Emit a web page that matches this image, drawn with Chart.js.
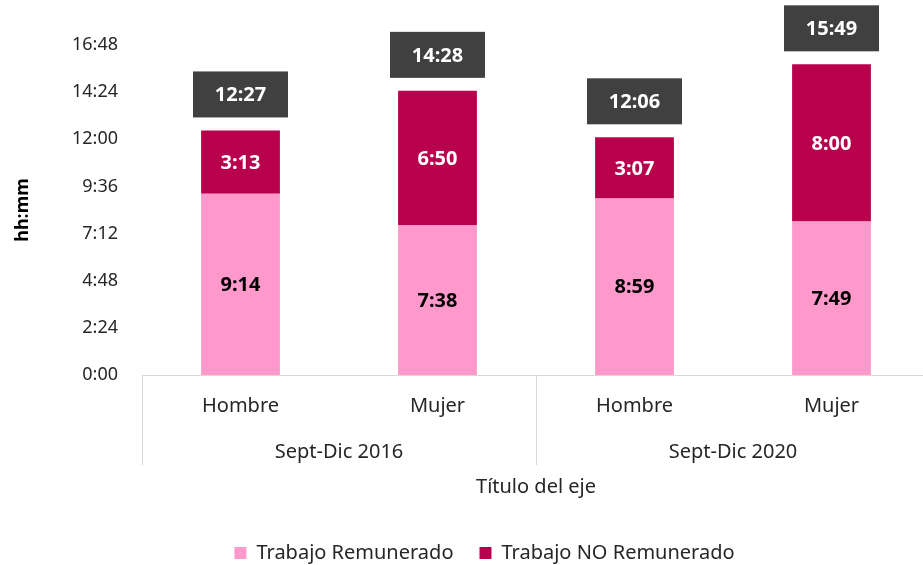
<!DOCTYPE html>
<html>
<head>
<meta charset="utf-8">
<script src="https://cdn.jsdelivr.net/npm/chart.js@4"></script>
<style>
  html, body { margin: 0; padding: 0; background: #fff; }
</style>
</head>
<body>
<canvas id="chart" width="923" height="565"></canvas>
<script>
// values as hh:mm, as printed on the chart
const periods = ["Sept-Dic 2016", "Sept-Dic 2020"];
const sexes = ["Hombre", "Mujer", "Hombre", "Mujer"];
const remunerado = ["9:14", "7:38", "8:59", "7:49"];
const noRemunerado = ["3:13", "6:50", "3:07", "8:00"];
const seriesNames = ["Trabajo Remunerado", "Trabajo NO Remunerado"];

const toMin = (s) => {
  const [h, m] = s.split(":").map(Number);
  return h * 60 + m;
};
const fmt = (v) => Math.floor(v / 60) + ":" + String(Math.round(v % 60)).padStart(2, "0");

const pink = "#ff99cc";
const wine = "#b9004d";
const lineGray = "#d9d9d9";
const textColor = "#262626";

Chart.defaults.font.family = "'Noto Sans', 'Open Sans', sans-serif";
Chart.defaults.font.size = 20;
Chart.defaults.color = textColor;

// the plot in the original runs a little past the right edge
const plotRight = 930;
const legendShift = 23;

const labelsPlugin = {
  id: "labelsPlugin",
  afterLayout(chart) {
    const x = chart.scales.x;
    x.right = plotRight;
    x.width = x.right - x.left;
    x.configure();
    chart.chartArea.right = plotRight;
    chart.chartArea.width = plotRight - chart.chartArea.left;

    const lg = chart.legend;
    lg.left += legendShift;
    lg.right += legendShift;
  },
  afterDatasetsDraw(chart) {
    const ctx = chart.ctx;
    const area = chart.chartArea;
    const x = chart.scales.x;
    ctx.save();
    ctx.textAlign = "center";
    ctx.textBaseline = "middle";
    ctx.font = "bold 20px 'Noto Sans', sans-serif";

    chart.data.datasets.forEach((ds, d) => {
      chart.getDatasetMeta(d).data.forEach((bar, i) => {
        ctx.fillStyle = d === 0 ? "#000" : "#fff";
        ctx.fillText(fmt(ds.data[i]), bar.x, (bar.y + bar.base) / 2 + 1);
      });
    });

    // totals in dark boxes above each bar
    chart.getDatasetMeta(1).data.forEach((bar, i) => {
      const total = chart.data.datasets[0].data[i] + chart.data.datasets[1].data[i];
      const bw = 95, bh = 46;
      const by = bar.y - 13 - bh;
      ctx.fillStyle = "#404040";
      ctx.fillRect(bar.x - bw / 2, by, bw, bh);
      ctx.fillStyle = "#fff";
      ctx.fillText(fmt(total), bar.x, by + bh / 2 + 1);
    });

    // two-level category labels
    ctx.font = "20px 'Noto Sans', sans-serif";
    ctx.fillStyle = textColor;
    sexes.forEach((s, i) => {
      ctx.fillText(s, x.getPixelForValue(i), area.bottom + 31);
    });
    periods.forEach((p, g) => {
      const cx = (x.getPixelForValue(g * 2) + x.getPixelForValue(g * 2 + 1)) / 2;
      ctx.fillText(p, cx, area.bottom + 77);
    });
    ctx.restore();
  },
};

new Chart(document.getElementById("chart"), {
  type: "bar",
  data: {
    labels: sexes,
    datasets: [
      {
        label: seriesNames[0],
        data: remunerado.map(toMin),
        backgroundColor: pink,
        categoryPercentage: 1,
        barPercentage: 0.4,
      },
      {
        label: seriesNames[1],
        data: noRemunerado.map(toMin),
        backgroundColor: wine,
        categoryPercentage: 1,
        barPercentage: 0.4,
      },
    ],
  },
  options: {
    responsive: false,
    animation: false,
    devicePixelRatio: 1,
    layout: { padding: { top: 45, right: 0, left: 0, bottom: 0 } },
    plugins: {
      legend: {
        position: "bottom",
        maxHeight: 48,
        labels: {
          boxWidth: 12,
          boxHeight: 12,
          padding: 26,
          color: textColor,
          font: { size: 20 },
        },
      },
      tooltip: { enabled: false },
    },
    scales: {
      x: {
        stacked: true,
        ticks: { display: false },
        grid: {
          display: true,
          drawOnChartArea: false,
          drawTicks: true,
          tickLength: 90,
          color: (c) => (c.index === undefined || c.index % 2 === 0 ? lineGray : "rgba(0,0,0,0)"),
        },
        border: { display: true, color: lineGray },
        title: {
          display: true,
          text: "Título del eje",
          color: textColor,
          font: { size: 20 },
          padding: { top: 10, bottom: 18 },
        },
      },
      y: {
        stacked: true,
        min: 0,
        max: 1008,
        afterFit(scale) {
          scale.width = 142;
        },
        ticks: {
          stepSize: 144,
          padding: 24,
          color: textColor,
          font: { size: 18 },
          callback: (v) => fmt(v),
        },
        grid: { display: false, drawTicks: false },
        border: { display: false },
        title: {
          display: true,
          text: "hh:mm",
          color: "#000",
          font: { size: 18, weight: "bold" },
          padding: { top: 12, bottom: 0 },
        },
      },
    },
  },
  plugins: [labelsPlugin],
});
</script>
</body>
</html>
